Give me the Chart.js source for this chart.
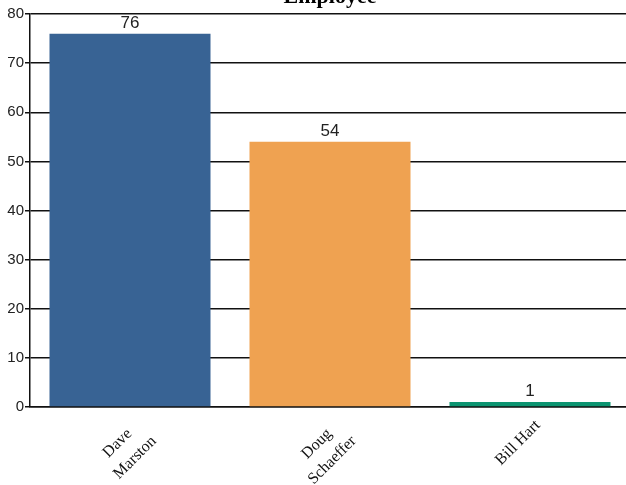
<!DOCTYPE html>
<html>
<head>
<meta charset="utf-8">
<script src="https://cdn.jsdelivr.net/npm/chart.js@4/dist/chart.umd.min.js"></script>
<style>
  body { margin: 0; background: #fff; overflow: hidden; }
  #grafico { position: absolute; top: -16px; left: 0; }
</style>
</head>
<body>
<canvas id="grafico" width="630" height="503"></canvas>
<script>
const empleados = [['Dave   ', 'Marston'], ['Doug   ', 'Schaeffer'], 'Bill Hart']
const valores = [76, 54, 1]
const colores = ['#386394', '#efa251', '#0b9471']

// etiquetas de valor arriba de cada barra
const etiquetas = {
    id: 'etiquetas',
    afterDatasetsDraw(chart) {
        const ctx = chart.ctx
        const meta = chart.getDatasetMeta(0)
        ctx.save()
        ctx.font = '17px "Liberation Sans", Arial, sans-serif'
        ctx.fillStyle = '#222'
        ctx.textAlign = 'center'
        ctx.textBaseline = 'alphabetic'
        meta.data.forEach((bar, i) => {
            ctx.fillText(valores[i], bar.x, bar.y - 6)
        })
        ctx.restore()
    }
}

new Chart(document.getElementById('grafico'), {
    type: 'bar',
    data: {
        labels: empleados,
        datasets: [{
            data: valores,
            backgroundColor: colores,
            categoryPercentage: 1,
            barPercentage: 0.805
        }]
    },
    options: {
        responsive: false,
        animation: false,
        layout: { padding: 0 },
        plugins: {
            legend: { display: false },
            tooltip: { enabled: false },
            title: {
                display: true,
                text: 'Employee',
                fullSize: false,
                color: '#000',
                font: { family: '"Liberation Serif", "Times New Roman", serif', size: 22, weight: 'bold' },
                padding: { top: 0, bottom: 3.6 }
            }
        },
        scales: {
            x: {
                afterFit: scale => { scale.height = 80 },
                grid: { display: false },
                border: { display: true, color: '#111', width: 1.5 },
                ticks: {
                    minRotation: 45,
                    maxRotation: 45,
                    labelOffset: 8,
                    padding: 0,
                    color: '#111',
                    font: { family: '"Liberation Serif", "Times New Roman", serif', size: 16, lineHeight: 1.4 }
                }
            },
            y: {
                min: 0,
                max: 80,
                afterFit: scale => { scale.width = 30 },
                grid: { color: '#111', lineWidth: 1.5, tickLength: 5 },
                border: { display: true, color: '#111', width: 1.5 },
                ticks: {
                    stepSize: 10,
                    padding: 1,
                    color: '#222',
                    font: { family: '"Liberation Sans", Arial, sans-serif', size: 15 }
                }
            }
        }
    },
    plugins: [etiquetas]
});
</script>
</body>
</html>
